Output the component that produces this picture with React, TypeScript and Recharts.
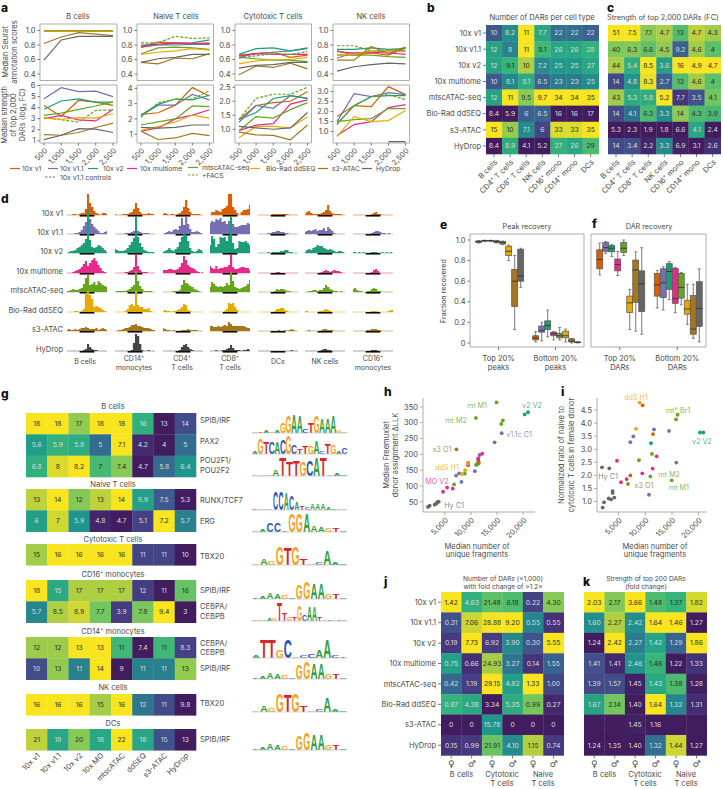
import React from "react";
import {
  AreaChart, Area, BarChart, Bar, LineChart, Line, ScatterChart, Scatter,
  XAxis, YAxis, ReferenceArea, ReferenceLine,
} from "recharts";

const FONT = "Inter, 'Noto Sans', sans-serif";
const INK = "#4a4a4a";
const FRAME = "#adadad";

// v1, v1.1, v2, multiome, mtscATAC, FACS, ddSEQ, s3, HyDrop
const LINE_COLORS = ["#d95f02", "#7570b3", "#1b9e77", "#e7298a", "#66a61e", "#66a61e", "#e6ab02", "#a6761d", "#666666"];
const FRAGMENTS = [500, 1000, 1500, 2000, 2500];

const bCellScores = [
  [0.99, 0.99, 0.99, 0.99, 0.99], [1, 1, 1, 1, 1], [1, 1, 1, 0.99, 0.99], [0.99, 0.99, 0.99, 0.99, 0.99],
  [1, 1, 1, 1, 1], [1, 1, 1, 1, 1], [0.99, 0.99, 0.99, 0.99, 0.99], [0.82, 0.91, 0.97, 0.95, 0.93], [0.59, 0.87, 0.92, 0.92, 0.92],
];
const naiveScores = [
  [0.78, 0.84, 0.83, 0.82, 0.83], [0.77, 0.8, 0.8, 0.81, 0.81], [0.8, 0.81, 0.82, 0.83, 0.87], [0.77, 0.81, 0.83, 0.82, 0.82],
  [0.68, 0.76, 0.77, 0.76, 0.74], [0.83, 0.83, 0.92, 0.89, 0.9], [0.67, 0.7, 0.72, 0.75, 0.73], [0.56, 0.54, 0.62, 0.61, 0.68], [0.56, 0.61, 0.63, 0.67, 0.67],
];
const cytotoxicScores = [
  [0.66, 0.68, 0.7, 0.63, 0.66], [0.63, 0.68, 0.7, 0.72, 0.75], [0.67, 0.75, 0.76, 0.72, 0.76], [0.65, 0.68, 0.67, 0.67, 0.67],
  [0.63, 0.61, 0.59, 0.59, 0.57], [0.62, 0.65, 0.68, 0.67, 0.71], [0.54, 0.58, 0.6, 0.6, 0.63], [0.39, 0.51, 0.49, 0.55, 0.47], [0.48, 0.52, 0.53, 0.56, 0.56],
];
const nkScores = [
  [0.72, 0.66, 0.69, 0.66, 0.76], [0.62, 0.69, 0.7, 0.72, 0.72], [0.74, 0.74, 0.76, 0.74, 0.75], [0.71, 0.69, 0.7, 0.69, 0.67],
  [0.66, 0.66, 0.66, 0.64, 0.63], [0.79, 0.79, 0.72, 0.73, 0.76], [0.66, 0.67, 0.72, 0.72, 0.71], [0.59, 0.59, 0.78, 0.68, 0.77], [0.44, 0.5, 0.53, 0.55, 0.54],
];
const bCellStrength = [
  [4.2, 3.2, 4.65, 4.5, 4.2], [4.8, 5.8, 5.45, 5.5, 5.0], [3.85, 4.6, 4.8, 4.5, 4.5], [3.0, 3.3, 2.9, 2.8, 3.85],
  [3.3, 3.5, 3.85, 4.15, 4.5], [3.1, 2.9, 2.7, 3.75, 3.8], [3.05, 2.95, 3.1, 3.05, 3.45], [1.55, 1.5, 1.75, 2.2, 2.6], [1.1, 1.5, 2.1, 2.05, 1.75],
];
const naiveStrength = [
  [2.3, 2.4, 2.9, 4.05, 3.5], [2.2, 2.9, 2.9, 3.6, 3.25], [2.25, 2.95, 3.3, 3.25, 3.55], [1.2, 1.4, 2, 2.25, 2.6],
  [1.6, 1.8, 2, 2.85, 2.8], [2.1, 3.05, 3.3, 3.3, 3.85], [1.25, 1.5, 1.8, 2.25, 2.05], [1.2, 0.65, 0.75, 1.05, 0.9], [1.45, 1.4, 1.45, 1.6, 1.6],
];
const cytotoxicStrength = [
  [1.35, 1.85, 1.95, 2.0, 2.35], [1.25, 1.85, 1.75, 2.2, 2.1], [1.35, 1.6, 2.1, 2.2, 2.1], [0.95, 1.15, 1.2, 1.9, 2.05],
  [0.95, 1.45, 1.4, 1.7, 1.95], [1.35, 2.1, 2.25, 2.25, 2.5], [0.7, 1.1, 1.1, 1.05, 1.45], [0.9, 0.8, 0.78, 0.62, 1.15], [1.1, 1.05, 1.0, 1.05, 1.6],
];
const nkStrength = [
  [1.75, 2.3, 2.25, 3.25, 2.85], [1.5, 2.9, 2.75, 2.95, 2.85], [1.4, 2.3, 2.75, 2.8, 2.8], [0.8, 1.35, 1.5, 2.2, 2.35],
  [1.5, 1.6, 1.65, 2.15, 2.15], [1.35, 2.3, 2.75, 2.85, 2.6], [0.75, 1.75, 1.5, 1.55, 2.05], [null, null, null, null, null], [null, null, null, 0.5, 0.5],
];

const ASSAYS = ["10x v1", "10x v1.1", "10x v2", "10x multiome", "mtscATAC-seq", "Bio-Rad ddSEQ", "s3-ATAC", "HyDrop"];
const CELL_TYPES = ["B cells", "CD4⁺ T cells", "CD8⁺ T cells", "NK cells", "CD16⁺ mono", "CD14⁺ mono", "DCs"];
const dars = [
  [10, 8.2, 11, 7.7, 22, 22, 22], [12, 8, 11, 8.1, 26, 26, 28], [12, 9.1, 10, 7.2, 25, 25, 27], [10, 8.1, 8.1, 6.5, 23, 23, 25],
  [12, 11, 9.5, 9.7, 34, 34, 35], [8.4, 5.9, 6, 6.5, 16, 16, 17], [15, 10, 7.1, 6, 33, 33, 35], [8.4, 8.9, 4.1, 5.2, 27, 26, 29],
];
const darStrength = [
  [51, 7.5, 7.1, 4.7, 13, 4.7, 4.3], [40, 6.3, 6.6, 4.5, 9.2, 4.6, 4], [44, 5.4, 8.5, 3.6, 16, 4.9, 4.7], [14, 4.8, 8.3, 2.7, 13, 4.6, 4],
  [43, 5.3, 5.8, 5.2, 7.7, 3.5, 4.1], [14, 4.1, 6.3, 3.3, 14, 4.3, 3.9], [5.3, 2.3, 1.9, 1.8, 6.6, 4.1, 2.4], [14, 3.4, 2.2, 3.3, 6.9, 3.1, 2.6],
];

// coverage tracks, one list per assay, one block per cell type
const trackB = [
  [0, 0, 0, 1, 1, 0, 1, 2, 2, 6, 21, 12, 8, 4, 2, 1, 0, 2, 2, 1], [0, 0, 0, 0, 1, 1, 2, 4, 8, 12, 17, 15, 10, 7, 5, 3, 1, 1, 2, 3],
  [0, 1, 2, 2, 3, 5, 6, 8, 10, 14, 43, 13, 6, 5, 6, 8, 7, 5, 3, 1], [0, 0, 0, 1, 2, 3, 4, 6, 9, 12, 7, 10, 13, 15, 12, 8, 5, 2, 1, 0],
  [1, 1, 2, 3, 2, 2, 3, 4, 8, 14, 18, 7, 8, 10, 7, 11, 9, 7, 6, 5], [0, 0, 0, 0, 1, 1, 0, 1, 3, 19, 21, 17, 13, 5, 6, 5, 4, 2, 1, 0],
  [1, 2, 1, 1, 2, 1, 2, 3, 3, 4, 3, 2, 2, 2, 3, 1, 2, 3, 2, 1], [0, 0, 0, 0, 0, 0, 0, 0, 1, 2, 7, 4, 2, 1, 1, 0, 0, 0, 0, 0],
];
const trackCd14 = [
  [1, 0, 0, 0, 1, 1, 1, 2, 3, 6, 12, 7, 3, 1, 1, 1, 2, 1, 1, 0], [0, 0, 0, 0, 0, 1, 1, 1, 2, 3, 5, 3, 2, 1, 1, 1, 1, 0, 0, 0],
  [4, 3, 2, 2, 2, 3, 5, 8, 11, 15, 37, 16, 10, 6, 3, 2, 1, 1, 1, 0], [0, 0, 0, 0, 0, 1, 1, 2, 3, 6, 19, 7, 3, 1, 1, 1, 0, 0, 0, 0],
  [0, 1, 1, 1, 1, 1, 2, 3, 5, 7, 21, 11, 6, 3, 1, 1, 1, 1, 0, 0], [0, 0, 0, 0, 0, 1, 3, 7, 8, 6, 21, 7, 5, 5, 3, 3, 4, 1, 0, 0],
  [0, 0, 1, 1, 2, 3, 3, 4, 6, 6, 7, 5, 5, 4, 3, 3, 3, 2, 1, 1], [0, 0, 0, 0, 0, 0, 0, 0, 1, 8, 17, 15, 7, 1, 0, 0, 1, 0, 0, 0],
];
const trackCd4 = [
  [1, 2, 1, 0, 1, 1, 0, 1, 2, 4, 8, 15, 7, 3, 1, 1, 1, 1, 0, 0], [0, 1, 2, 3, 2, 4, 5, 4, 8, 16, 9, 17, 10, 5, 2, 2, 3, 2, 1, 0],
  [1, 2, 3, 5, 3, 2, 4, 6, 11, 16, 19, 18, 12, 5, 2, 1, 2, 4, 3, 1], [3, 3, 3, 4, 4, 3, 3, 4, 6, 10, 17, 13, 8, 6, 5, 4, 2, 1, 0, 1],
  [0, 0, 0, 0, 0, 1, 1, 1, 2, 7, 12, 9, 8, 6, 5, 3, 2, 1, 0, 0], [1, 2, 1, 1, 0, 1, 1, 2, 3, 5, 8, 7, 2, 1, 0, 0, 0, 0, 0, 0],
  [3, 2, 1, 1, 0, 1, 0, 0, 0, 1, 1, 1, 2, 1, 1, 1, 1, 0, 0, 0], [0, 0, 0, 0, 0, 0, 0, 0, 1, 4, 6, 7, 4, 2, 1, 0, 0, 0, 0, 0],
];
const trackCd8 = [
  [0, 3, 3, 5, 4, 3, 6, 7, 9, 21, 21, 8, 5, 2, 0, 3, 5, 5, 6, 10], [11, 13, 12, 15, 14, 16, 12, 13, 10, 13, 14, 10, 7, 7, 8, 9, 9, 9, 11, 10],
  [8, 17, 14, 6, 9, 16, 15, 16, 12, 18, 37, 10, 4, 5, 12, 11, 11, 12, 10, 8], [7, 5, 4, 7, 4, 5, 5, 6, 6, 8, 19, 6, 4, 4, 5, 6, 6, 5, 5, 3],
  [5, 10, 8, 6, 5, 6, 5, 6, 9, 7, 20, 11, 5, 4, 3, 4, 5, 6, 8, 12], [0, 0, 0, 0, 0, 0, 0, 1, 3, 9, 8, 9, 5, 2, 0, 0, 0, 0, 0, 0],
  [5, 5, 4, 4, 5, 4, 5, 6, 5, 9, 7, 5, 5, 5, 5, 5, 5, 4, 3, 3], [0, 0, 0, 1, 0, 0, 1, 1, 2, 3, 6, 3, 1, 1, 1, 0, 1, 1, 2, 1],
];
const trackDc = [
  [0, 0, 0, 0, 0, 0, 0, 1, 1, 1, 1, 1, 1, 1, 1, 0, 0, 0, 0, 0], [0, 0, 0, 0, 0, 1, 1, 2, 2, 3, 3, 2, 2, 1, 1, 0, 0, 0, 0, 0],
  [0, 0, 0, 0, 0, 1, 0, 1, 1, 1, 1, 2, 2, 3, 3, 1, 1, 0, 0, 0], [0, 0, 0, 0, 0, 0, 0, 0, 0, 1, 1, 0, 0, 0, 0, 0, 0, 0, 0, 0],
  [0, 0, 0, 0, 0, 0, 0, 0, 1, 3, 2, 3, 3, 2, 1, 1, 0, 0, 0, 0], [0, 0, 0, 0, 0, 0, 0, 0, 1, 3, 3, 4, 4, 2, 1, 0, 0, 0, 0, 0],
  [0, 0, 0, 0, 0, 0, 0, 0, 0, 0, 1, 0, 0, 1, 0, 1, 2, 1, 0, 0], [0, 0, 0, 0, 0, 0, 0, 0, 0, 0, 0, 0, 0, 0, 0, 0, 1, 0, 0, 0],
];
const trackNk = [
  [1, 3, 4, 2, 1, 1, 1, 1, 2, 3, 5, 10, 4, 2, 1, 1, 1, 1, 0, 0], [2, 3, 4, 3, 4, 5, 3, 4, 4, 6, 3, 7, 5, 3, 1, 0, 0, 0, 0, 0],
  [1, 3, 4, 3, 5, 6, 8, 7, 7, 5, 4, 3, 4, 3, 2, 1, 2, 2, 1, 0], [0, 0, 0, 0, 0, 0, 0, 0, 1, 2, 3, 2, 1, 2, 3, 2, 2, 1, 0, 0],
  [0, 0, 1, 1, 2, 2, 1, 2, 2, 4, 7, 5, 3, 2, 1, 1, 0, 1, 0, 0], [1, 1, 0, 0, 0, 0, 0, 1, 1, 2, 3, 2, 1, 0, 0, 0, 0, 0, 0, 0],
  [0, 0, 1, 0, 0, 0, 0, 0, 1, 2, 2, 1, 1, 1, 0, 0, 0, 0, 0, 0], [0, 0, 0, 0, 0, 0, 0, 0, 1, 2, 2, 1, 1, 0, 0, 0, 0, 0, 0, 0],
];
const trackCd16 = [
  [0, 0, 0, 0, 0, 0, 0, 0, 0, 1, 2, 3, 1, 1, 0, 0, 0, 0, 0, 0], [0, 0, 0, 0, 0, 0, 0, 0, 0, 1, 2, 3, 3, 2, 1, 1, 0, 1, 0, 0],
  [1, 1, 0, 1, 0, 1, 0, 0, 0, 1, 1, 1, 0, 0, 1, 0, 1, 0, 1, 0], [0, 0, 0, 0, 0, 0, 0, 0, 0, 1, 3, 4, 2, 0, 0, 0, 0, 0, 0, 0],
  [3, 4, 2, 1, 1, 0, 0, 1, 1, 3, 4, 3, 1, 1, 0, 0, 0, 0, 0, 0], [0, 0, 0, 0, 0, 0, 0, 0, 0, 1, 1, 1, 0, 0, 0, 0, 0, 1, 2, 2],
  [0, 0, 0, 0, 0, 0, 0, 1, 1, 2, 2, 2, 1, 1, 0, 0, 0, 0, 0, 0], [0, 0, 0, 0, 0, 0, 0, 0, 0, 1, 1, 1, 0, 0, 0, 0, 0, 0, 0, 0],
];
const TRACK_COLUMNS = [trackB, trackCd14, trackCd4, trackCd8, trackDc, trackNk, trackCd16];
const TRACK_COLORS = ["#d95f02", "#7570b3", "#1b9e77", "#e7298a", "#66a61e", "#e6ab02", "#a6761d", "#444444"];
const BOX_COLORS = ["#d95f02", "#7570b3", "#1b9e77", "#e7298a", "#66a61e", "#e6ab02", "#a6761d", "#666666"];

// box stats: min, q1, median, q3, max
const peakTop = [
  [0.97, 0.975, 0.985, 0.99, 0.995], [0.985, 0.99, 0.993, 0.996, 0.998], [0.985, 0.99, 0.993, 0.996, 0.998], [0.97, 0.975, 0.985, 0.992, 0.996],
  [0.955, 0.96, 0.975, 0.985, 0.99], [0.8, 0.85, 0.89, 0.94, 0.95], [0.13, 0.355, 0.6, 0.715, 0.85], [0.54, 0.6, 0.65, 0.91, 0.92],
];
const peakBottom = [
  [0.01, 0.03, 0.05, 0.07, 0.11], [0.02, 0.105, 0.12, 0.165, 0.2], [0.06, 0.13, 0.17, 0.215, 0.32], [0.03, 0.07, 0.09, 0.105, 0.11],
  [0.03, 0.05, 0.07, 0.095, 0.15], [0.01, 0.05, 0.07, 0.115, 0.135], [0, 0.01, 0.02, 0.04, 0.045], [0, 0.003, 0.006, 0.01, 0.012],
];
const darTop = [
  [0.66, 0.72, 0.81, 0.905, 0.97], [0.87, 0.89, 0.925, 0.975, 0.985], [0.84, 0.885, 0.92, 0.945, 0.955], [0.655, 0.7, 0.76, 0.815, 0.89],
  [0.85, 0.88, 0.92, 0.975, 1.0], [0.13, 0.295, 0.39, 0.455, 0.52], [0.115, 0.395, 0.71, 0.805, 0.885], [0.085, 0.305, 0.575, 0.7, 0.925],
];
const darBottom = [
  [0.34, 0.455, 0.565, 0.675, 0.705], [0.32, 0.44, 0.585, 0.72, 0.74], [0.42, 0.52, 0.695, 0.77, 0.79], [0.295, 0.385, 0.43, 0.725, 0.735],
  [0.37, 0.435, 0.54, 0.675, 0.685], [0.18, 0.28, 0.33, 0.415, 0.57], [0.045, 0.085, 0.135, 0.46, 0.57], [0.01, 0.16, 0.335, 0.595, 0.72],
];

const MOTIF_ASSAYS = ["10x v1", "10x v1.1", "10x v2", "10x MO", "mtscATAC", "ddSEQ", "s3-ATAC", "HyDrop"];
const motifB = [[18, 18, 17, 18, 18, 16, 13, 14], [5.6, 5.9, 5.8, 5, 7.1, 4.2, 4, 5], [6.8, 8, 8.2, 7, 7.4, 4.7, 5.8, 6.4]];
const motifNaive = [[13, 14, 12, 13, 14, 9.9, 7.5, 5.3], [6, 7, 5.9, 4.8, 4.7, 5.1, 7.2, 5.7]];
const motifCytotoxic = [[15, 16, 16, 16, 16, 11, 11, 10]];
const motifCd16 = [[18, 15, 17, 17, 17, 12, 11, 16], [5.7, 8.5, 8.9, 7.7, 3.9, 7.8, 9.4, 3]];
const motifCd14 = [[12, 12, 13, 13, 11, 7.4, 11, 8.3], [10, 13, 11, 14, 9, 11, 11, 13]];
const motifNk = [[16, 16, 16, 15, 16, 12, 11, 9.8]];
const motifDc = [[21, 18, 20, 18, 22, 18, 15, 13]];

// sequence logos: one letter per position with its height
const logoSpib1 = ["GTAGAGGAACTGAAAGA", [1, 1, 3, 1, 2, 10, 17, 18, 17, 4, 10, 17, 15, 15, 17, 3, 1]];
const logoPax2 = ["AGTCACGCTTGACTGAC", [2, 16, 12, 12, 12, 14, 18, 9, 5, 8, 8, 13, 2, 11, 9, 2, 7]];
const logoPou = ["GAAATTTGCATAAC", [1, 1, 1, 6, 18, 15, 16, 15, 16, 18, 18, 1, 3, 1]];
const logoRunx = ["TAAACCACATCAAAACAA", [1, 1, 1, 1, 18, 18, 17, 15, 8, 4, 3, 7, 7, 6, 2, 1, 1, 1]];
const logoErg = ["AACCTGGAAAGTC", [1, 3, 9, 9, 1, 18, 18, 19, 6, 5, 4, 4, 1]];
const logoTbx = ["GAGGTGTACAAC", [1, 6, 4, 18, 17, 18, 7, 1, 2, 14, 3, 1]];
const logoSpib2 = ["TAAAGCGGAAGTC", [1, 2, 7, 5, 4, 1.5, 14, 17, 16, 16, 5, 5, 1]];
const logoCebpSmall = ["GAAAGTTGTGCAATGCATA", [1, 1, 1, 2, 2, 18, 8, 4, 4, 16, 6, 14, 14, 4, 1, 1, 1, 1, 1]];
const logoCebp = ["ATTGCACCAACT", [3, 18, 18, 8, 18, 1.5, 2.5, 3.5, 8, 19, 3, 1]];
const LOGO_COLORS = { A: "#2e9e3f", C: "#2b4fb3", G: "#f5a21c", T: "#d9262c" };
const LOGO_ADVANCE = { A: 7.22, C: 7.22, G: 7.78, T: 6.11 };

const hV1 = [[9470, 173], [11450, 178]];
const hV11 = [[7170, 133], [7750, 140], [8190, 113], [10750, 147], [11640, 198], [14515, 238], [15860, 267]];
const hV2 = [[20260, 326], [20900, 333], [11200, 169], [11000, 167]];
const hMulti = [[4680, 82], [5447, 95], [6533, 92], [9470, 166], [11386, 187], [12150, 202], [11400, 182]];
const hMtsc = [[6788, 105], [8830, 139], [10940, 315], [14900, 364], [15790, 296], [16100, 307], [11070, 168]];
const hDd = [[8320, 138], [8900, 150], [9470, 170]];
const hS3 = [[7235, 216], [11500, 172]];
const hHy = [[1807, 34], [2126, 38], [3084, 41], [3403, 45], [3595, 49], [3850, 51]];

const iV1 = [[9500, 4.68], [11440, 3.58]];
const iV11 = [[7190, 3.27], [7750, 3.49], [10690, 1.26], [11625, 3.76], [14440, 3.7], [15810, 2.49]];
const iV2 = [[11060, 3.23], [20250, 3.64], [20875, 3.64]];
const iMulti = [[4690, 2.56], [5440, 1.74], [6500, 1.86], [9440, 2.08], [11375, 2.26], [12125, 2.73]];
const iMtsc = [[6750, 1.67], [8810, 2.58], [10940, 1.96], [14940, 1.81], [11250, 2.82], [15750, 4.14], [16060, 4.32]];
const iDd = [[8250, 3.78], [8940, 4.78]];
const iS3 = [[7190, 2.0]];
const iHy = [[1875, 2.31], [3250, 2.27], [2000, 0.77], [2250, 0.97], [3125, 1.12], [3560, 1.08], [3875, 1.4], [3875, 1.33], [4190, 1.15]];

const SEX = ["♀", "♂", "♀", "♂", "♀", "♂"];
const darsBySex = [
  [1.42, 4.63, 21.48, 6.18, 0.22, 4.3], [0.31, 7.06, 28.88, 9.2, 0.55, 0.55], [0.19, 7.73, 6.92, 3.9, 0.3, 5.55], [0.75, 0.66, 24.93, 3.27, 0.14, 1.55],
  [0.42, 1.19, 29.15, 4.82, 1.33, 1.0], [0.87, 4.38, 3.34, 5.35, 0.99, 0.27], [0, 0, 15.78, 0, 0, 0], [0.15, 0.99, 21.91, 4.1, 1.15, 0.74],
];
const strengthBySex = [
  [2.03, 2.17, 3.66, 1.48, 1.37, 1.82], [1.6, 2.27, 2.42, 1.64, 1.46, 1.27], [1.24, 2.42, 2.27, 1.42, 1.29, 1.86], [1.41, 1.41, 2.46, 1.46, 1.22, 1.33],
  [1.39, 1.57, 1.45, 1.43, 1.38, 1.28], [1.67, 2.14, 1.4, 1.64, 1.32, 1.31], [null, null, 1.45, 1.16, null, null], [1.24, 1.35, 1.4, 1.32, 1.44, 1.27],
];

const VIRIDIS = [[65, 29, 95], [70, 56, 127], [62, 90, 144], [42, 123, 142], [31, 154, 138], [54, 180, 122], [122, 199, 92], [184, 208, 63], [248, 229, 31]];
function viridis(t: number) {
  const p = Math.max(0, Math.min(1, t)) * (VIRIDIS.length - 1);
  const i = Math.min(Math.floor(p), VIRIDIS.length - 2);
  const c = VIRIDIS[i].map((v, k) => Math.round(v + (VIRIDIS[i + 1][k] - v) * (p - i)));
  return `rgb(${c.join(",")})`;
}

function Abs({ x, y, children }: any) {
  return <div style={{ position: "absolute", left: x, top: y }}>{children}</div>;
}

function LinePanel({ x, y, w, h, lines, domain, ticks, digits = 1, showX = false }: any) {
  const rows = FRAGMENTS.map((f, i) => {
    const row: any = { f };
    lines.forEach((s: any[], k: number) => (row["s" + k] = s[i]));
    return row;
  });
  const xh = showX ? 34 : 2;
  return (
    <Abs x={x - 26} y={y - 6}>
      <LineChart width={w + 34} height={h + 6 + xh} data={rows} margin={{ top: 6, right: 8, left: 0, bottom: 0 }}>
        <ReferenceArea y1={domain[0]} y2={domain[1]} fill="none" stroke={FRAME} strokeWidth={1} />
        <XAxis
          dataKey="f" type="number" domain={[384, 2616]} ticks={FRAGMENTS} interval={0} height={xh}
          axisLine={false} tickLine={showX ? { stroke: "#777" } : false} tickSize={2.5}
          tick={showX ? { fontSize: 7.5, fill: INK, fontFamily: FONT } : false}
          angle={-45} textAnchor="end" tickFormatter={(v) => v.toLocaleString("en-US")}
        />
        <YAxis
          type="number" domain={domain} ticks={ticks} width={26} interval={0} allowDataOverflow
          axisLine={false} tickLine={{ stroke: "#777" }} tickSize={2.5}
          tick={{ fontSize: 7.5, fill: INK, fontFamily: FONT }} tickFormatter={(v) => v.toFixed(digits)}
        />
        {lines.map((_: any, k: number) => (
          <Line
            key={k} dataKey={"s" + k} stroke={LINE_COLORS[k]} strokeWidth={1.2} dot={false} isAnimationActive={false}
            strokeDasharray={k === 5 ? "3 1.5" : undefined} type="linear"
          />
        ))}
      </LineChart>
    </Abs>
  );
}

function Heatmap({ x, y, w, h, values, by, rowLabels, colLabels, xh = 0, labelW = 0, pad = 0, digits, tickFont, tickLen = 3 }: any) {
  const nr = values.length;
  const nc = values[0].length;
  const norm = (r: number, c: number) => {
    const group = by === "row" ? values[r] : values.map((row: any[]) => row[c]);
    const nums = group.filter((v: any) => v != null);
    const lo = Math.min(...nums);
    const hi = Math.max(...nums);
    return hi === lo ? 0 : (values[r][c] - lo) / (hi - lo);
  };
  const cells: any[] = [];
  values.forEach((row: any[], r: number) =>
    row.forEach((v, c) =>
      cells.push({ c, r, v, t: v == null ? 0 : norm(r, c) })
    )
  );
  const cw = w / nc;
  const ch = h / nr;
  const fmt = (v: number) => (digits == null || v === 0 ? String(v) : v.toFixed(digits));
  return (
    <Abs x={x - labelW - pad} y={y}>
      <ScatterChart width={pad + labelW + w + 2} height={h + xh} margin={{ top: 0, right: 2, left: pad, bottom: 0 }}>
        <XAxis
          dataKey="c" type="number" domain={[-0.5, nc - 0.5]} ticks={colLabels ? colLabels.map((_: any, i: number) => i) : []}
          interval={0} height={xh} hide={!colLabels} axisLine={false} tickSize={tickLen} tickLine={{ stroke: "#777" }}
          tick={{ fontSize: tickFont ? 9 : 7.5, fill: INK, fontFamily: tickFont || FONT }}
          angle={tickFont ? 0 : -45} textAnchor={tickFont ? "middle" : "end"}
          tickFormatter={(i) => colLabels[i]}
        />
        <YAxis
          dataKey="r" type="number" reversed domain={[-0.5, nr - 0.5]} ticks={rowLabels ? rowLabels.map((_: any, i: number) => i) : []}
          interval={0} width={labelW} hide={!rowLabels} axisLine={false} tickSize={3} tickLine={{ stroke: "#777" }}
          tick={(p: any) => (
            <text x={p.x} y={p.y + 2.7} textAnchor="end" fontSize={7.5} fontFamily={FONT} fill={INK}>
              {rowLabels[p.payload.value]}
            </text>
          )}
        />
        <Scatter
          data={cells} isAnimationActive={false}
          shape={(p: any) => (
            <g>
              <rect x={p.cx - cw / 2} y={p.cy - ch / 2} width={cw + 0.3} height={ch + 0.3} fill={viridis(p.payload.t)} />
              {p.payload.v != null && (
                <text
                  x={p.cx} y={p.cy + 2.4} textAnchor="middle" fontSize={6.8} fontFamily={FONT}
                  fill={p.payload.t > 0.62 ? "#2d2d2d" : "#dcdcdc"}
                >
                  {fmt(p.payload.v)}
                </text>
              )}
            </g>
          )}
        />
      </ScatterChart>
    </Abs>
  );
}

function Track({ x, base, values, color }: any) {
  const rows = values.map((v: number, i: number) => ({ i, v }));
  return (
    <Abs x={x} y={base - 46}>
      <AreaChart width={40} height={48} data={rows} margin={{ top: 0, right: 0, left: 0, bottom: 0 }}>
        <XAxis dataKey="i" type="number" domain={[0, 19]} hide />
        <YAxis type="number" domain={[-2, 46]} hide />
        <ReferenceLine y={0} stroke={color} strokeOpacity={0.5} strokeWidth={1} />
        <Area dataKey="v" type="step" stroke="none" fill={color} fillOpacity={1} isAnimationActive={false} dot={false} />
        <ReferenceLine segment={[{ x: 6, y: -0.8 }, { x: 13, y: -0.8 }]} stroke="#000" strokeWidth={1.5} />
      </AreaChart>
    </Abs>
  );
}

function BoxPanel({ x, w, top, bottom, labels, showY }: any) {
  const rows = [
    { name: labels[0], stats: top },
    { name: labels[1], stats: bottom },
  ];
  const yw = showY ? 20 : 0;
  return (
    <Abs x={x - yw} y={234}>
      <BarChart
        width={w + yw + 1} height={113 + 24} data={rows} barCategoryGap="10%" barGap={0}
        margin={{ top: 0, right: 1, left: 0, bottom: 0 }}
      >
        <ReferenceArea y1={-0.039} y2={1.058} fill="none" stroke={FRAME} />
        <XAxis
          dataKey="name" height={24} interval={0} axisLine={false} tickLine={{ stroke: "#777" }} tickSize={3}
          tick={(p: any) => {
            const parts = String(p.payload.value).split("\n");
            return (
              <text x={p.x} y={p.y + 9} textAnchor="middle" fontSize={7.5} fontFamily={FONT} fill={INK}>
                <tspan x={p.x}>{parts[0]}</tspan>
                <tspan x={p.x} dy={8.5}>{parts[1]}</tspan>
              </text>
            );
          }}
        />
        <YAxis
          type="number" domain={[-0.039, 1.058]} ticks={[0, 0.2, 0.4, 0.6, 0.8, 1]} hide={!showY} width={yw} interval={0}
          axisLine={false} tickLine={{ stroke: "#777" }} tickSize={2.5} allowDataOverflow
          tick={{ fontSize: 7.5, fill: INK, fontFamily: FONT }} tickFormatter={(v) => (v === 0 ? "0" : v.toFixed(1))}
        />
        {BOX_COLORS.map((color, i) => (
          <Bar
            key={i} dataKey={(d: any) => [d.stats[i][1], d.stats[i][3]]} isAnimationActive={false}
            shape={(p: any) => {
              const s = p.payload.stats[i];
              const unit = p.height / (s[3] - s[1]);
              const py = (v: number) => p.y + (s[3] - v) * unit;
              const mid = p.x + p.width / 2;
              return (
                <g stroke="#555" strokeWidth={0.7}>
                  <line x1={mid} x2={mid} y1={py(s[4])} y2={py(s[0])} stroke="#777" strokeWidth={1} />
                  <line x1={mid - 1.5} x2={mid + 1.5} y1={py(s[4])} y2={py(s[4])} />
                  <line x1={mid - 1.5} x2={mid + 1.5} y1={py(s[0])} y2={py(s[0])} />
                  <rect x={p.x} y={p.y} width={p.width} height={p.height} fill={color} />
                  <line x1={p.x} x2={p.x + p.width} y1={py(s[2])} y2={py(s[2])} stroke="#333" strokeWidth={0.9} />
                </g>
              );
            }}
          />
        ))}
      </BarChart>
    </Abs>
  );
}

function Logo({ base, logo }: any) {
  const rows = logo[0].split("").map((l: string, i: number) => ({ l, h: logo[1][i] }));
  return (
    <Abs x={252} y={base - 21}>
      <BarChart width={95} height={22} data={rows} barCategoryGap={0} margin={{ top: 0, right: 0, left: 0, bottom: 1 }}>
        <XAxis dataKey="l" hide />
        <YAxis type="number" domain={[0, 21]} hide />
        <ReferenceLine y={0} stroke="#bbb" strokeWidth={0.7} />
        <Bar
          dataKey="h" isAnimationActive={false}
          shape={(p: any) => {
            const l = p.payload.l;
            const sx = p.width / LOGO_ADVANCE[l];
            const sy = p.height / 7.2;
            return (
              <text
                transform={`translate(${p.x},${p.y + p.height}) scale(${sx},${sy})`}
                fontSize={10} fontWeight={700} fontFamily="'Liberation Sans', sans-serif" fill={LOGO_COLORS[l]}
              >
                {l}
              </text>
            );
          }}
        />
      </BarChart>
    </Abs>
  );
}

function Dots({ x, y, w, h, sets, xDomain, yDomain, yTicks, digits }: any) {
  return (
    <Abs x={x - 24} y={y}>
      <ScatterChart width={w + 24} height={h + 30} margin={{ top: 0, right: 0, left: 0, bottom: 0 }}>
        <XAxis
          dataKey="x" type="number" domain={xDomain} ticks={[5000, 10000, 15000, 20000]} interval={0} height={30}
          axisLine={{ stroke: FRAME }} tickLine={{ stroke: FRAME }} tickSize={3}
          tick={{ fontSize: 7.5, fill: INK, fontFamily: FONT }} angle={-45} textAnchor="end"
          tickFormatter={(v) => v.toLocaleString("en-US")}
        />
        <YAxis
          dataKey="y" type="number" domain={yDomain} ticks={yTicks} interval={0} width={24}
          axisLine={{ stroke: FRAME }} tickLine={{ stroke: FRAME }} tickSize={3}
          tick={{ fontSize: 7.5, fill: INK, fontFamily: FONT }} tickFormatter={(v) => v.toFixed(digits)}
        />
        {sets.map((pts: number[][], k: number) => (
          <Scatter
            key={k} data={pts.map((p) => ({ x: p[0], y: p[1] }))} isAnimationActive={false}
            shape={(p: any) => <circle cx={p.cx} cy={p.cy} r={1.9} fill={BOX_COLORS[k]} />}
          />
        ))}
      </ScatterChart>
    </Abs>
  );
}

function T({ x, y, a = "start", c = INK, s = 7.5, w, r, o, children }: any) {
  return (
    <text
      x={x} y={y} textAnchor={a} fill={c} fontSize={s} fontWeight={w} fontFamily={FONT} fillOpacity={o}
      transform={r ? `rotate(${r} ${x} ${y})` : undefined}
    >
      {children}
    </text>
  );
}

const LEGEND = [
  { label: "10x v1", lx: 10, tx: 22, y: 171, k: 0 },
  { label: "10x v1.1", lx: 48, tx: 60, y: 171, k: 1 },
  { label: "10x v2", lx: 88, tx: 103, y: 171, k: 2 },
  { label: "10x multiome", lx: 127, tx: 140, y: 171, k: 3 },
  { label: "mtscATAC-seq", lx: 188, tx: 202, y: 170, k: 4 },
  { label: "+FACS", lx: 188, tx: 202, y: 177.5, k: 5, dash: true },
  { label: "Bio-Rad ddSEQ", lx: 250, tx: 266, y: 171, k: 6 },
  { label: "s3-ATAC", lx: 318, tx: 332, y: 171, k: 7 },
  { label: "HyDrop", lx: 362, tx: 376, y: 171, k: 8 },
  { label: "10x v1.1 controls", lx: 45, tx: 60, y: 179.5, k: 1, dash: true },
];
const TRACK_BASES = [215, 234.3, 253.3, 272.7, 292.3, 311.7, 331, 350.7];
const TRACK_XS = [67, 114.5, 163, 210, 258, 305, 353];
const LOGO_ROWS: any[] = [
  [432.7, logoSpib1], [454, logoPax2], [475.7, logoPou], [510, logoRunx], [531.7, logoErg], [565.3, logoTbx],
  [599, logoSpib2], [620.7, logoCebpSmall], [657.7, logoCebp], [678.7, logoSpib2], [712.3, logoTbx], [749.7, logoSpib2],
];
const MOTIF_LABELS: any[] = [
  [423, "SPIB/IRF"], [444, "PAX2"], [463, "POU2F1/"], [473, "POU2F2"], [503, "RUNX/TCF7"], [524, "ERG"], [559, "TBX20"],
  [593, "SPIB/IRF"], [609, "CEBPA/"], [619, "CEBPB"], [646, "CEBPA/"], [655, "CEBPB"], [671, "SPIB/IRF"], [706, "TBX20"], [742, "SPIB/IRF"],
];
const LETTERS: any[] = [["a", 1, 12], ["b", 427, 12], ["c", 607, 12], ["d", 1, 203], ["e", 440, 229], ["f", 592, 228], ["g", 1, 398], ["h", 384, 396], ["i", 561, 396], ["j", 384, 586], ["k", 583, 586]];
const GROUP_TITLES: any[] = [
  ["B cells", 409], ["Naive T cells", 487], ["Cytotoxic T cells", 542], ["CD16⁺ monocytes", 577], ["CD14⁺ monocytes", 634], ["NK cells", 690], ["DCs", 726],
];
const HLABELS: any[] = [
  ["mt M1", 477, 408, 4], ["mt M2", 456, 423, 4], ["v2 V2", 532, 408, 2], ["v1.1c C1", 519, 437, 1], ["s3 O1", 442, 452, 6],
  ["ddS H1", 447, 470, 5], ["MO V2", 437, 484, 3], ["Hy C1", 454, 508, 7],
  ["ddS H1", 636, 400, 5], ["mt* Br1", 678, 413, 4], ["v2 V2", 702, 444, 2], ["Hy C1", 608, 479, 7], ["mt M2", 669, 477, 4], ["s3 O1", 644, 488, 6], ["mt M1", 679, 490, 4],
];
const TRACK_TITLES: any[] = [
  ["B cells", 85, null], ["CD14⁺", 134, "monocytes"], ["CD4⁺", 182, "T cells"], ["CD8⁺", 230, "T cells"], ["DCs", 278, null], ["NK cells", 325, null], ["CD16⁺", 373, "monocytes"],
];

export default function App() {
  return (
    <div style={{ position: "absolute", left: 0, top: 0, width: 723, height: 789, background: "#fff", overflow: "hidden" }}>
      <style>{`.recharts-surface{overflow:visible}`}</style>
      <LinePanel x={40} y={23.5} w={77} h={56.5} lines={bCellScores} domain={[0.31, 1.09]} ticks={[0.4, 0.6, 0.8, 1]} />
      <LinePanel x={137} y={23.5} w={76.5} h={56.5} lines={naiveScores} domain={[0.31, 1.09]} ticks={[0.4, 0.6, 0.8, 1]} />
      <LinePanel x={235} y={23.5} w={76.5} h={56.5} lines={cytotoxicScores} domain={[0.31, 1.09]} ticks={[0.4, 0.6, 0.8, 1]} />
      <LinePanel x={333} y={23.5} w={76.5} h={56.5} lines={nkScores} domain={[0.31, 1.09]} ticks={[0.4, 0.6, 0.8, 1]} />
      <LinePanel x={40} y={85} w={77} h={58} lines={bCellStrength} domain={[0.8, 6.05]} ticks={[1, 2, 3, 4, 5, 6]} digits={0} showX />
      <LinePanel x={137} y={85} w={76.5} h={58} lines={naiveStrength} domain={[0.42, 4.22]} ticks={[1, 2, 3, 4]} digits={0} showX />
      <LinePanel x={235} y={85} w={76.5} h={58} lines={cytotoxicStrength} domain={[0.51, 2.58]} ticks={[1, 1.5, 2, 2.5]} showX />
      <LinePanel x={333} y={85} w={76.5} h={58} lines={nkStrength} domain={[0.43, 3.33]} ticks={[1, 1.5, 2, 2.5, 3]} showX />

      <Heatmap x={486.3} y={24.7} w={112.7} h={129} values={dars} by="col" rowLabels={ASSAYS} colLabels={CELL_TYPES} labelW={80} xh={36} />
      <Heatmap x={608.3} y={24.7} w={112.7} h={129} values={darStrength} by="col" colLabels={CELL_TYPES} xh={36} pad={24} />

      {TRACK_COLUMNS.map((col, c) =>
        col.map((vals, r) => <Track key={c + "-" + r} x={TRACK_XS[c]} base={TRACK_BASES[r]} values={vals} color={TRACK_COLORS[r]} />)
      )}

      <BoxPanel x={470} w={114} top={peakTop} bottom={peakBottom} labels={["Top 20%\npeaks", "Bottom 20%\npeaks"]} showY />
      <BoxPanel x={591} w={115} top={darTop} bottom={darBottom} labels={["Top 20%\nDARs", "Bottom 20%\nDARs"]} />

      <Heatmap x={25.7} y={413.3} w={170} h={64} values={motifB} by="row" />
      <Heatmap x={25.7} y={489.3} w={170} h={42.7} values={motifNaive} by="row" />
      <Heatmap x={25.7} y={544} w={170} h={21.3} values={motifCytotoxic} by="row" />
      <Heatmap x={25.7} y={580} w={170} h={42.7} values={motifCd16} by="row" />
      <Heatmap x={25.7} y={637} w={170} h={42.7} values={motifCd14} by="row" />
      <Heatmap x={25.7} y={693.7} w={170} h={21.3} values={motifNk} by="row" />
      <Heatmap x={25.7} y={729} w={170} h={21.3} values={motifDc} by="row" colLabels={MOTIF_ASSAYS} xh={36} tickLen={0} pad={20} />

      {LOGO_ROWS.map((row, i) => <Logo key={i} base={row[0]} logo={row[1]} />)}

      <Dots
        x={423} y={398} w={112} h={114} sets={[hV1, hV11, hV2, hMulti, hMtsc, hDd, hS3, hHy]}
        xDomain={[850, 22235]} yDomain={[18, 378]} yTicks={[50, 100, 150, 200, 250, 300, 350]} digits={0}
      />
      <Dots
        x={597} y={398} w={110} h={114} sets={[iV1, iV11, iV2, iMulti, iMtsc, iDd, iS3, iHy]}
        xDomain={[940, 21560]} yDomain={[0.6, 4.96]} yTicks={[1, 1.5, 2, 2.5, 3, 3.5, 4, 4.5]} digits={1}
      />

      <Heatmap x={441} y={592.3} w={122.7} h={163.4} values={darsBySex} by="col" rowLabels={ASSAYS} colLabels={SEX} labelW={80} xh={16} digits={2} tickFont="'DejaVu Sans'" />
      <Heatmap x={584} y={592.3} w={122.7} h={163.4} values={strengthBySex} by="col" colLabels={SEX} xh={16} digits={2} tickFont="'DejaVu Sans'" />

      <svg width={723} height={789} style={{ position: "absolute", left: 0, top: 0, pointerEvents: "none" }}>
        {LETTERS.map(([l, x, y]) => <T key={l} x={x} y={y} s={12} w={800} c="#111">{l}</T>)}

        <T x={78} y={19} a="middle">B cells</T>
        <T x={176} y={19} a="middle">Naive T cells</T>
        <T x={273} y={19} a="middle">Cytotoxic T cells</T>
        <T x={371} y={19} a="middle">NK cells</T>
        <T x={8} y={52} a="middle" r={-90}>Median Seurat</T>
        <T x={17} y={52} a="middle" r={-90}>annotation scores</T>
        <T x={7} y={115} a="middle" r={-90}>Median strength</T>
        <T x={16} y={115} a="middle" r={-90}>of top 2,000</T>
        <T x={25} y={115} a="middle" r={-90}>DARs (log₂ FC)</T>
        {LEGEND.map((d) => (
          <g key={d.label}>
            <line x1={d.lx} x2={d.lx + 10} y1={d.y - 2.5} y2={d.y - 2.5} stroke={LINE_COLORS[d.k]} strokeWidth={1.2} strokeDasharray={d.dash ? "2.5 1.5" : undefined} />
            <T x={d.tx} y={d.y} s={6.8}>{d.label}</T>
          </g>
        ))}

        <T x={542} y={20} a="middle">Number of DARs per cell type</T>
        <T x={607} y={20} s={7.3}>Strength of top 2,000 DARs (FC)</T>

        {ASSAYS.map((a, i) => <T key={a} x={63} y={TRACK_BASES[i] + 1} a="end">{a}</T>)}
        {TRACK_TITLES.map(([a, x, b]) => (
          <g key={a}>
            <T x={x} y={b ? 361 : 364} a="middle" s={7}>{a}</T>
            {b && <T x={x} y={370} a="middle" s={7}>{b}</T>}
          </g>
        ))}

        <T x={527} y={229} a="middle" s={7.2}>Peak recovery</T>
        <T x={649} y={229} a="middle" s={7.2}>DAR recovery</T>
        <T x={446} y={291} a="middle" r={-90} s={7.2}>Fraction recovered</T>

        {GROUP_TITLES.map(([t, y]) => <T key={t} x={113} y={y} a="middle">{t}</T>)}
        {MOTIF_LABELS.map(([y, t], i) => <T key={i} x={200} y={y}>{t}</T>)}

        {HLABELS.map(([t, x, y, k], i) => <T key={i} x={x} y={y} a="middle" c={BOX_COLORS[k]} o={0.8} s={7.2}>{t}</T>)}
        <T x={389} y={455} a="middle" r={-90}>Median Freemuxlet</T>
        <T x={398} y={455} a="middle" r={-90}>donor assignment ΔLLK</T>
        <T x={564} y={455} a="middle" r={-90}>Normalized ratio of naive to</T>
        <T x={574} y={455} a="middle" r={-90}>cytotoxic T cells in female donor</T>
        <T x={477} y={549} a="middle">Median number of</T>
        <T x={477} y={557} a="middle">unique fragments</T>
        <T x={655} y={549} a="middle">Median number of</T>
        <T x={655} y={557} a="middle">unique fragments</T>

        <T x={503} y={581} a="middle" s={6.6}>Number of DARs (×1,000)</T>
        <T x={503} y={589} a="middle" s={6.6}>with fold change of {">"}1.2×</T>
        <T x={646} y={581} a="middle" s={6.6}>Strength of top 200 DARs</T>
        <T x={646} y={589} a="middle" s={6.6}>(fold change)</T>
        {[0, 143].map((dx) => (
          <g key={dx}>
            <T x={461.5 + dx} y={777} a="middle">B cells</T>
            <T x={502 + dx} y={777} a="middle">Cytotoxic</T>
            <T x={502 + dx} y={786} a="middle">T cells</T>
            <T x={543 + dx} y={777} a="middle">Naive</T>
            <T x={543 + dx} y={786} a="middle">T cells</T>
          </g>
        ))}
      </svg>
    </div>
  );
}
